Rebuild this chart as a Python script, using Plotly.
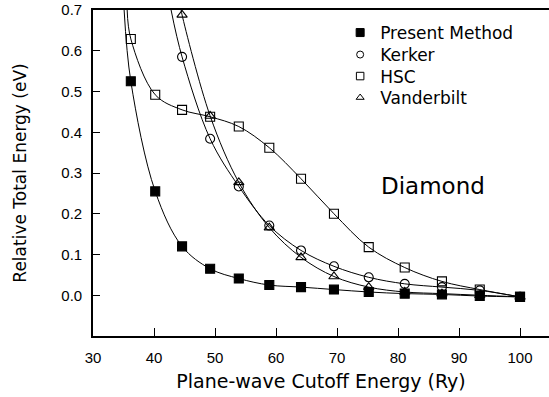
import plotly.graph_objects as go

# Data
cutoff = [36.2, 40.2, 44.6, 49.2, 53.9, 58.9, 64.1, 69.5, 75.2, 81.1, 87.2, 93.4, 100.0]
present = [0.525, 0.255, 0.120, 0.065, 0.041, 0.025, 0.020, 0.014, 0.008, 0.004, 0.002, -0.002, -0.004]
hsc = [0.629, 0.492, 0.455, 0.438, 0.414, 0.362, 0.286, 0.200, 0.118, 0.068, 0.034, 0.014, -0.004]
kerker = [None, None, 0.585, 0.384, 0.267, 0.171, 0.110, 0.071, 0.044, 0.028, 0.020, 0.012, -0.004]
vanderbilt = [None, None, 0.688, 0.440, 0.277, 0.166, 0.093, 0.046, 0.020, 0.008, 0.004, 0.000, -0.004]

# Where each fitted curve leaves the top of the frame
curve_exit_x = {"Present Method": 35.1, "Kerker": 42.8, "HSC": 35.6, "Vanderbilt": 44.45}
curve_exit_y = 0.7

series_names = ["Present Method", "Kerker", "HSC", "Vanderbilt"]
series_values = {"Present Method": present, "Kerker": kerker, "HSC": hsc, "Vanderbilt": vanderbilt}
symbols = {"Present Method": "square", "Kerker": "circle-open", "HSC": "square-open",
           "Vanderbilt": "triangle-up-open"}
legend_sizes = {"Present Method": 8, "Kerker": 7, "HSC": 7.5, "Vanderbilt": 7}
legend_ids = {"Present Method": "legend", "Kerker": "legend2", "HSC": "legend3", "Vanderbilt": "legend4"}

TEXT_FONT = "DejaVu Sans"
TICK_FONT = "Liberation Sans, Arial, sans-serif"

WIN_W, WIN_H = 549, 397
PLOT_LEFT, PLOT_TOP, PLOT_BOTTOM = 93, 10, 336          # window pixels
legend_centers_px = [33, 55, 76.5, 98]

fig = go.Figure()

# fitted curves
for name in series_names:
    vals = series_values[name]
    xs = [curve_exit_x[name]] + [x for x, v in zip(cutoff, vals) if v is not None]
    ys = [curve_exit_y] + [v for v in vals if v is not None]
    fig.add_trace(go.Scatter(x=xs, y=ys, mode="lines", showlegend=False,
                             line=dict(color="black", width=1, shape="spline", smoothing=1.0),
                             hoverinfo="skip"))

# markers; draw Present Method last
draw_order = ["HSC", "Kerker", "Vanderbilt", "Present Method"]
for name in draw_order:
    vals = series_values[name]
    xs = [x for x, v in zip(cutoff, vals) if v is not None]
    ys = [v for v in vals if v is not None]
    fig.add_trace(go.Scatter(x=xs, y=ys, mode="markers", name=name, showlegend=False,
                             marker=dict(symbol=symbols[name], size=9, color="black",
                                         line=dict(color="black", width=1.1))))

# legend entries (smaller symbols, as in the reference legend)
for name in series_names:
    fig.add_trace(go.Scatter(x=[None], y=[None], mode="markers", name=name,
                             legend=legend_ids[name], showlegend=True,
                             marker=dict(symbol=symbols[name], size=legend_sizes[name], color="black",
                                         line=dict(color="black", width=1))))

legend_common = dict(xanchor="left", yanchor="middle", bgcolor="rgba(0,0,0,0)", borderwidth=0,
                     font=dict(family=TEXT_FONT, size=17, color="black"))
legend_layout = {}
for name, yc in zip(series_names, legend_centers_px):
    legend_layout[legend_ids[name]] = dict(x=0.542, y=(PLOT_BOTTOM - yc) / (PLOT_BOTTOM - PLOT_TOP),
                                           **legend_common)

fig.add_annotation(text="Diamond", x=85.7, y=0.269, xref="x", yref="y", showarrow=False,
                   font=dict(family=TEXT_FONT, size=23, color="black"))

fig.update_layout(
    width=WIN_W, height=WIN_H,
    margin=dict(l=PLOT_LEFT, r=0, t=PLOT_TOP, b=WIN_H - PLOT_BOTTOM, pad=0),
    paper_bgcolor="white", plot_bgcolor="white",
    showlegend=True,
    hovermode=False,
    xaxis=dict(range=[30, 104.75], tickvals=[30, 40, 50, 60, 70, 80, 90, 100],
               ticks="inside", ticklen=8, tickwidth=1, tickcolor="black",
               showline=True, linecolor="black", linewidth=1.8, mirror=True,
               showgrid=False, zeroline=False, automargin=False, ticklabelstandoff=7,
               tickfont=dict(family=TICK_FONT, size=15, color="black"),
               title=dict(text="Plane-wave Cutoff Energy (Ry)",
                          font=dict(family=TEXT_FONT, size=19, color="black"), standoff=10)),
    yaxis=dict(range=[-0.1, 0.7], tickvals=[0.0, 0.1, 0.2, 0.3, 0.4, 0.5, 0.6, 0.7],
               tickformat=".1f",
               ticks="inside", ticklen=7, tickwidth=1, tickcolor="black",
               showline=True, linecolor="black", linewidth=1.6,
               showgrid=False, zeroline=False, automargin=False,
               ticklabelstandoff=6, ticklabeloverflow="allow",
               tickfont=dict(family=TICK_FONT, size=15, color="black"),
               title=dict(text="Relative Total Energy (eV)",
                          font=dict(family=TEXT_FONT, size=17, color="black"), standoff=30)),
    **legend_layout,
)

# remove the browser's default 8px body margin so the figure fills the window exactly
fig.write_html("out.html", config={"displayModeBar": False},
               post_script="document.body.style.margin='0';")
